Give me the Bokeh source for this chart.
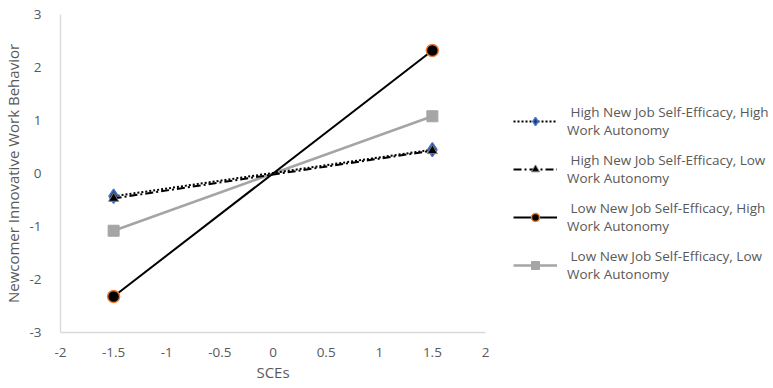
from bokeh.plotting import figure
from bokeh.models import Legend, LegendItem, FixedTicker
from bokeh.embed import file_html
from bokeh.resources import INLINE

x_vals = [-1.5, 1.5]
hh = [-0.43, 0.45]
hl = [-0.47, 0.43]
lh = [-2.32, 2.32]
ll = [-1.08, 1.08]
labels = [
    " High New Job Self-Efficacy, High\nWork Autonomy",
    " High New Job Self-Efficacy, Low\nWork Autonomy",
    " Low New Job Self-Efficacy, High\nWork Autonomy",
    " Low New Job Self-Efficacy, Low\nWork Autonomy",
]
x_ticks = [-2, -1.5, -1, -0.5, 0, 0.5, 1, 1.5, 2]
x_tick_labels = ["-2", "-1.5", "-1", "-0.5", "0", "0.5", "1", "1.5", "2"]
y_ticks = [-3, -2, -1, 0, 1, 2, 3]
y_tick_labels = ["-3", "-2", "-1", "0", "1", "2", "3"]

FONT = "Open Sans"
GREY = "#595959"

p = figure(frame_width=425, frame_height=318, x_range=(-2, 2), y_range=(-3, 3),
           output_backend="svg", toolbar_location=None,
           min_border_left=57, min_border_top=14, min_border_bottom=48, min_border_right=280)
p.outline_line_color = None
p.xgrid.grid_line_color = None
p.ygrid.grid_line_color = None

for ax in (p.xaxis[0], p.yaxis[0]):
    ax.axis_line_color = "#d9d9d9"
    ax.axis_line_width = 1.3
    ax.major_tick_line_color = None
    ax.minor_tick_line_color = None
    ax.major_label_text_color = GREY
    ax.major_label_text_font = FONT
    ax.major_label_text_font_size = "13.5px"
    ax.axis_label_text_color = GREY
    ax.axis_label_text_font = FONT
    ax.axis_label_text_font_size = "15px"
    ax.axis_label_text_font_style = "normal"

p.xaxis.ticker = FixedTicker(ticks=x_ticks)
p.xaxis.major_label_overrides = {t: l for t, l in zip(x_ticks, x_tick_labels)}
p.yaxis.ticker = FixedTicker(ticks=y_ticks)
p.yaxis.major_label_overrides = {t: l for t, l in zip(y_ticks, y_tick_labels)}
p.xaxis.axis_label = "SCEs"
p.yaxis.axis_label = "Newcomer Innovative Work Behavior"
p.xaxis.major_label_standoff = 9
p.yaxis.major_label_standoff = 13
p.xaxis.axis_label_standoff = 2
p.yaxis.axis_label_standoff = 3

r4l = p.line(x_vals, ll, line_color="#a5a5a5", line_width=2.5)
r4m = p.scatter(x_vals, ll, marker="square", size=11, fill_color="#a5a5a5", line_color="#a5a5a5")
r3l = p.line(x_vals, lh, line_color="black", line_width=2)
r3m = p.scatter(x_vals, lh, marker="circle", size=12, fill_color="black", line_color="#ed7d31", line_width=1.5)
r1l = p.line(x_vals, hh, line_color="black", line_width=2, line_dash="2 2")
r1m = p.scatter(x_vals, hh, marker="diamond", size=14, fill_color="#1f3864", line_color="#4472c4", line_width=1.5)
r2l = p.line(x_vals, hl, line_color="black", line_width=2, line_dash="8 3 2 3")
r2m = p.scatter(x_vals, hl, marker="triangle", size=10, fill_color="black", line_color="#7f7f7f", line_width=1)

legend = Legend(items=[
    LegendItem(label=labels[0], renderers=[r1l, r1m]),
    LegendItem(label=labels[1], renderers=[r2l, r2m]),
    LegendItem(label=labels[2], renderers=[r3l, r3m]),
    LegendItem(label=labels[3], renderers=[r4l, r4m]),
], location=(28, 48))
legend.border_line_color = None
legend.background_fill_alpha = 0
legend.label_text_font = FONT
legend.label_text_font_size = "13.5px"
legend.label_text_color = GREY
legend.glyph_width = 44
legend.label_standoff = 10
legend.spacing = 10
legend.margin = 0
legend.padding = 0
legend.label_height = 38
p.add_layout(legend, "right")

open("out.html", "w").write(file_html(p, INLINE))
